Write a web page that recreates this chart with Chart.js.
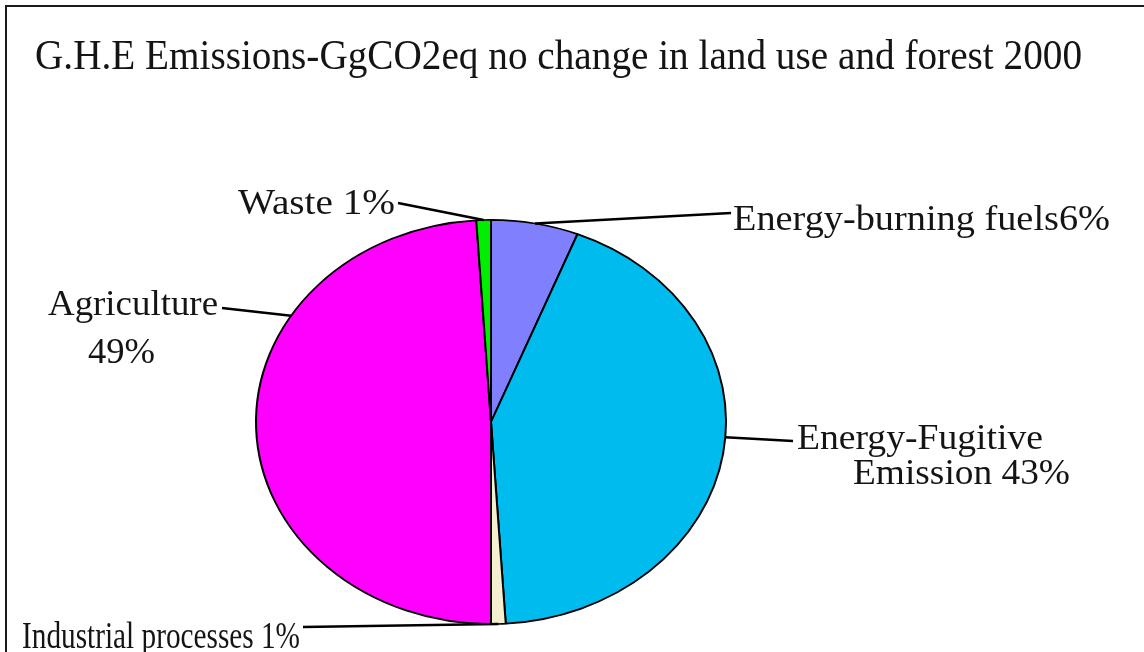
<!DOCTYPE html>
<html>
<head>
<meta charset="utf-8">
<script src="https://cdn.jsdelivr.net/npm/chart.js@4/dist/chart.umd.min.js"></script>
<style>
  html, body { margin: 0; padding: 0; background: #fff; overflow: hidden; }
  #wrap { width: 1144px; height: 652px; position: relative; }
  canvas { display: block; }
</style>
</head>
<body>
<div id="wrap"><canvas id="c" width="1144" height="652"></canvas></div>
<script>
// ---- data ----
const chartTitle = 'G.H.E Emissions-GgCO2eq no change in land use and forest 2000';
const categories = ['Energy-burning fuels', 'Energy-Fugitive Emission', 'Industrial processes', 'Agriculture', 'Waste'];
const shares = [6, 43, 1, 49, 1];
const sliceColors = ['#8080ff', '#00bcee', '#f4efd0', '#ff00ff', '#00ee00'];
const calloutText = [
  ['Energy-burning fuels6%'],
  ['Energy-Fugitive', 'Emission 43%'],
  ['Industrial processes 1%'],
  ['Agriculture', '49%'],
  ['Waste 1%']
];

// ---- layout ----
const FONT = '"Liberation Serif", "Times New Roman", serif';
const PIE_CX = 491, PIE_CY = 422, PIE_SQUASH = 0.86;   // pie is drawn as an ellipse
const TITLE_BOX = { x: 35, base: 69, w: 1047, size: 42 };
// one entry per slice: text boxes (left, baseline, width, size) and the leader line
const calloutLayout = [
  { lines: [{ x: 733, base: 230, w: 377, size: 36 }], anchor: [731, 213], at: 0.5 },
  { lines: [{ x: 797, base: 449, w: 246, size: 36 }, { x: 853, base: 484, w: 217, size: 36 }], anchor: [793, 441], at: 0.47 },
  { lines: [{ x: 22, base: 648, w: 278, size: 38 }], anchor: [303, 627], at: 0.5 },
  { lines: [{ x: 48, base: 315, w: 170, size: 36 }, { x: 88, base: 363, w: 67, size: 36 }], anchor: [222, 308], at: 0.69 },
  { lines: [{ x: 238, base: 214, w: 157, size: 36 }], anchor: [398, 203], at: 0.5 }
];

function fitText(ctx, s, x, base, w, size) {
  ctx.font = size + 'px ' + FONT;
  const natural = ctx.measureText(s).width;
  ctx.save();
  ctx.translate(x, base);
  ctx.scale(w / natural, 1);
  ctx.textBaseline = 'alphabetic';
  ctx.textAlign = 'left';
  ctx.fillText(s, 0, 0);
  ctx.restore();
}

// squash the circular pie vertically into an ellipse around (PIE_CX, PIE_CY)
const ellipsePie = {
  id: 'ellipsePie',
  beforeDatasetsDraw(chart) {
    const arc = chart.getDatasetMeta(0).data[0];
    const ctx = chart.ctx;
    ctx.save();
    ctx.translate(PIE_CX, PIE_CY);
    ctx.scale(1, PIE_SQUASH);
    ctx.translate(-arc.x, -arc.y);
  },
  afterDatasetsDraw(chart) {
    chart.ctx.restore();
  }
};

// frame, title, callout labels and leader lines
const decorations = {
  id: 'decorations',
  beforeDraw(chart) {
    const ctx = chart.ctx;
    ctx.save();
    ctx.fillStyle = '#fff';
    ctx.fillRect(0, 0, chart.width, chart.height);
    ctx.strokeStyle = '#1a1a1a';
    ctx.lineWidth = 2;
    ctx.beginPath();
    ctx.moveTo(6, chart.height);
    ctx.lineTo(6, 6);
    ctx.lineTo(chart.width, 6);
    ctx.stroke();
    ctx.restore();
  },
  afterDraw(chart) {
    const ctx = chart.ctx;
    const arcs = chart.getDatasetMeta(0).data;
    ctx.save();
    ctx.fillStyle = '#141414';
    fitText(ctx, chartTitle, TITLE_BOX.x, TITLE_BOX.base, TITLE_BOX.w, TITLE_BOX.size);

    calloutLayout.forEach((c, i) => {
      const el = arcs[i];
      const a = el.startAngle + c.at * (el.endAngle - el.startAngle);
      const px = PIE_CX + el.outerRadius * Math.cos(a);
      const py = PIE_CY + PIE_SQUASH * el.outerRadius * Math.sin(a);
      ctx.strokeStyle = '#000';
      ctx.lineWidth = 2.5;
      ctx.beginPath();
      ctx.moveTo(c.anchor[0], c.anchor[1]);
      ctx.lineTo(px, py);
      ctx.stroke();
      calloutText[i].forEach((s, j) => {
        const b = c.lines[j];
        fitText(ctx, s, b.x, b.base, b.w, b.size);
      });
    });
    ctx.restore();
  }
};

new Chart(document.getElementById('c'), {
  type: 'pie',
  data: {
    labels: categories,
    datasets: [{
      data: shares,
      backgroundColor: sliceColors,
      borderColor: '#000',
      borderWidth: 2,
      clip: false
    }]
  },
  options: {
    responsive: false,
    animation: false,
    events: [],
    layout: { padding: { left: 255, right: 417, top: 90, bottom: 90 } },
    plugins: {
      legend: { display: false },
      title: { display: false },
      tooltip: { enabled: false }
    }
  },
  plugins: [ellipsePie, decorations]
});
</script>
</body>
</html>
